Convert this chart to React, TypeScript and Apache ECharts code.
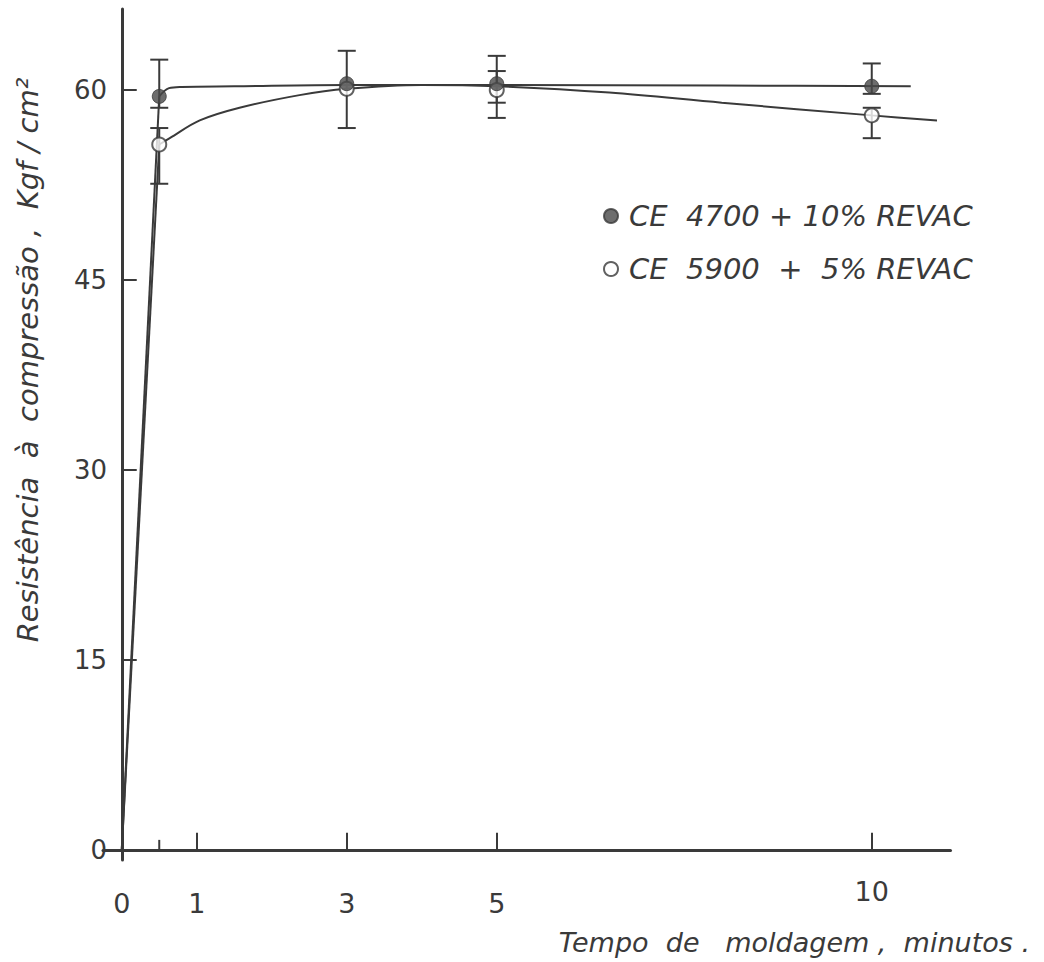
import React, { useEffect, useRef } from "react";
import * as echarts from "echarts";

// ---- data ----
const times = [0.5, 3, 5, 10];
const filledMean = [59.5, 60.5, 60.5, 60.3];
const filledHigh = [62.4, 63.1, 62.7, 62.1];
const filledLow = [58.6, 57.0, 57.8, 59.7];
const openMean = [55.7, 60.1, 60.0, 58.0];
const openHigh = [57.0, null, 61.5, 58.6];
const openLow = [52.6, null, 59.0, 56.2];

// hand-drawn fit curves (steep rise from the origin, then a smooth curve)
const origin = [0, 0];
const filledCurveX = [0.5, 0.63, 0.8, 1.5, 3, 5, 8, 10.52];
const filledCurveY = [59.5, 60.15, 60.25, 60.3, 60.4, 60.4, 60.35, 60.3];
const openCurveX = [0.5, 0.64, 1.04, 1.57, 2.37, 3, 4, 5, 6.5, 8, 10, 10.87];
const openCurveY = [55.7, 56.2, 57.6, 58.6, 59.6, 60.1, 60.4, 60.3, 59.8, 59.0, 58.0, 57.6];

const xTickValues = [1, 3, 5, 10];
const xLabelValues = [0, 1, 3, 5];
const xRaisedLabelValues = [10];
const xShortTicks = [0.5];
const yTickValues = [0, 15, 30, 45, 60];

const filledName = "CE  4700 + 10% REVAC";
const openName = "CE  5900  +  5% REVAC";
const yTitle = "Resistência  à  compressão ,  Kgf / cm²";
const xTitle = "Tempo  de   moldagem ,  minutos .";

const INK = "#3a3a3a";
const FONT = "DejaVu Sans";

export default function App() {
  const ref = useRef<HTMLDivElement>(null);
  useEffect(() => {
    document.body.style.margin = "0";
    const chart = echarts.init(ref.current!, null, { renderer: "svg" });

    const errData = (hi: (number | null)[], lo: (number | null)[]) =>
      times
        .map((t, i) => (hi[i] == null || lo[i] == null ? null : [t, lo[i], hi[i]]))
        .filter((d) => d !== null);

    const errRender = (params: any, api: any) => {
      const x = api.value(0);
      const pLo = api.coord([x, api.value(1)]);
      const pHi = api.coord([x, api.value(2)]);
      const hw = 9;
      const st = { stroke: INK, lineWidth: 2 };
      return {
        type: "group",
        children: [
          { type: "line", shape: { x1: pHi[0], y1: pHi[1], x2: pLo[0], y2: pLo[1] }, style: st },
          { type: "line", shape: { x1: pHi[0] - hw, y1: pHi[1], x2: pHi[0] + hw, y2: pHi[1] }, style: st },
          { type: "line", shape: { x1: pLo[0] - hw, y1: pLo[1], x2: pLo[0] + hw, y2: pLo[1] }, style: st },
        ],
      };
    };

    const shortTickRender = (params: any, api: any) => {
      const p = api.coord([api.value(0), 0]);
      return {
        type: "line",
        shape: { x1: p[0], y1: p[1], x2: p[0], y2: p[1] - 10 },
        style: { stroke: INK, lineWidth: 2 },
      };
    };

    const lineBase = { type: "line", symbol: "none", lineStyle: { color: INK, width: 2 }, z: 2 };
    const xLabelStyle = { fontSize: 27, color: INK, fontFamily: FONT };

    chart.setOption({
      animation: false,
      backgroundColor: "#ffffff",
      textStyle: { fontFamily: FONT },
      grid: { left: 103, width: 847.5, top: 9, height: 851 },
      legend: {
        orient: "vertical",
        left: 598,
        top: 195,
        itemWidth: 14,
        itemHeight: 14,
        itemGap: 21,
        data: [filledName, openName],
        textStyle: {
          fontSize: 29,
          fontStyle: "italic",
          color: INK,
          fontFamily: FONT,
          lineHeight: 32,
          padding: [0, 0, 0, 6],
        },
      },
      xAxis: [
        {
          type: "value",
          min: -0.25,
          max: 11.05,
          axisLine: { onZero: true, lineStyle: { color: INK, width: 3 } },
          axisTick: { show: true, inside: true, length: 17, customValues: xTickValues, lineStyle: { color: INK, width: 2 } },
          axisLabel: { ...xLabelStyle, customValues: xLabelValues, margin: 30 },
          splitLine: { show: false },
        },
        {
          type: "value",
          min: -0.25,
          max: 11.05,
          position: "bottom",
          axisLine: { show: false, onZero: false },
          axisTick: { show: false },
          axisLabel: { ...xLabelStyle, customValues: xRaisedLabelValues, margin: 18 },
          splitLine: { show: false },
        },
      ],
      yAxis: {
        type: "value",
        min: -0.8,
        max: 66.4,
        axisLine: { show: true, onZero: true, lineStyle: { color: INK, width: 3 } },
        axisTick: { show: true, inside: true, length: 15, customValues: yTickValues, lineStyle: { color: INK, width: 2 } },
        axisLabel: { customValues: yTickValues, margin: -4, fontSize: 26, color: INK, fontFamily: FONT },
        splitLine: { show: false },
      },
      graphic: [
        {
          type: "text",
          x: 28,
          y: 360,
          rotation: Math.PI / 2,
          style: {
            text: yTitle,
            font: `italic 29px '${FONT}'`,
            fill: INK,
            align: "center",
            verticalAlign: "middle",
          },
        },
        {
          type: "text",
          x: 1030,
          y: 942,
          style: {
            text: xTitle,
            font: `italic 27px '${FONT}'`,
            fill: INK,
            align: "right",
            verticalAlign: "middle",
          },
        },
      ],
      series: [
        { ...lineBase, name: "rise-filled", data: [origin, [filledCurveX[0], filledCurveY[0]]] },
        { ...lineBase, name: "rise-open", data: [origin, [openCurveX[0], openCurveY[0]]] },
        {
          ...lineBase,
          name: "fit-filled",
          data: filledCurveX.map((x, i) => [x, filledCurveY[i]]),
          smooth: 0.35,
        },
        {
          ...lineBase,
          name: "fit-open",
          data: openCurveX.map((x, i) => [x, openCurveY[i]]),
          smooth: 0.35,
        },
        {
          type: "custom",
          name: "err-filled",
          data: errData(filledHigh, filledLow),
          encode: { x: 0, y: [1, 2] },
          renderItem: errRender,
          z: 3,
        },
        {
          type: "custom",
          name: "err-open",
          data: errData(openHigh, openLow),
          encode: { x: 0, y: [1, 2] },
          renderItem: errRender,
          z: 3,
        },
        {
          type: "custom",
          name: "short-ticks",
          data: xShortTicks.map((v) => [v]),
          encode: { x: 0 },
          renderItem: shortTickRender,
          z: 3,
        },
        {
          type: "scatter",
          name: openName,
          data: times.map((t, i) => [t, openMean[i]]),
          symbol: "circle",
          symbolSize: 14,
          itemStyle: { color: "#ffffff", borderColor: INK, borderWidth: 2 },
          z: 4,
        },
        {
          type: "scatter",
          name: filledName,
          data: times.map((t, i) => [t, filledMean[i]]),
          symbol: "circle",
          symbolSize: 14,
          itemStyle: { color: "#484848", borderColor: INK, borderWidth: 1 },
          z: 5,
        },
      ],
    });
    return () => chart.dispose();
  }, []);
  return <div ref={ref} style={{ width: 1044, height: 962 }} />;
}
